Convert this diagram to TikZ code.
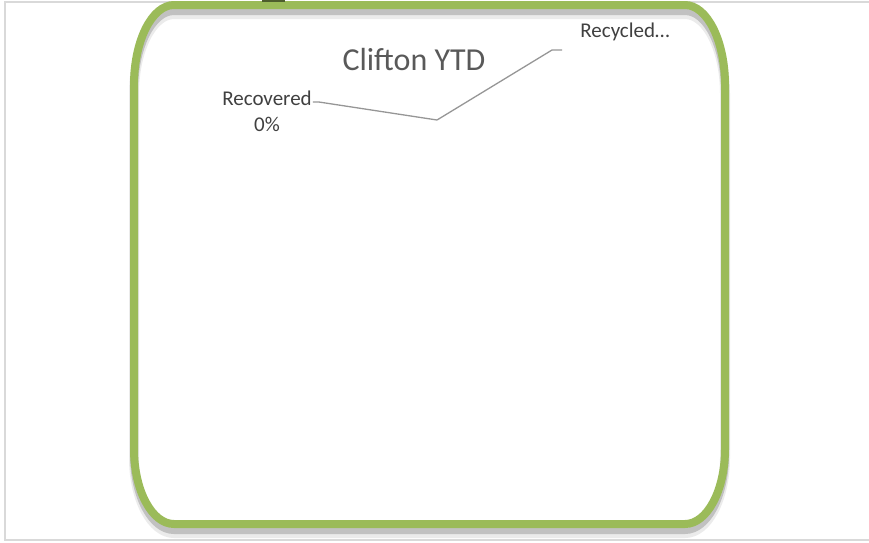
\documentclass[tikz,border=0pt]{standalone}
\usepackage{fontspec}
\setmainfont{Carlito}
\usepackage{xcolor}
\usetikzlibrary{positioning}

\definecolor{cardgreen}{RGB}{155,187,89}
\definecolor{framegray}{RGB}{217,217,217}
\definecolor{leadergray}{RGB}{150,150,150}
\definecolor{titlegray}{RGB}{89,89,89}
\definecolor{labelgray}{RGB}{64,64,64}

\tikzset{
  card outline/.style={insert path={
    (134,85) arc[start angle=180, end angle=270, x radius=40, y radius=80]
    -- (685,5) arc[start angle=270, end angle=360, x radius=40, y radius=80]
    -- (725,449) arc[start angle=0, end angle=90, x radius=40, y radius=75]
    -- (174,524) arc[start angle=90, end angle=180, x radius=40, y radius=75]
    -- cycle}},
  label text/.style={inner sep=1pt, text=labelgray, font=\fontsize{21}{25}\selectfont},
  leader/.style={draw=leadergray, line width=1.3pt}
}

\begin{document}
\begin{tikzpicture}[x=1pt,y=-1pt]
  \useasboundingbox (0,0) rectangle (869,542);

  % Frame
  \draw[framegray, line width=1.5pt] (880,2) -- (5,2) -- (5,540) -- (880,540);

  % Card
  \draw[black, opacity=0.08, line width=10pt, yshift=-9pt] [card outline];
  \draw[black, opacity=0.18, line width=8pt, yshift=-6pt] [card outline];
  \draw[cardgreen, line width=8pt] [card outline];
  \fill[cardgreen!50!black] (262,0) rectangle (285,2);

  % Nodes
  \node[text=titlegray, font=\fontsize{32}{38}\selectfont] (title) at (414,60) {Clifton YTD};
  \node[label text] (recovered) at (267,98) {Recovered};
  \node[label text, below=9pt of recovered] (recovered_pct) {0\%};
  \node[label text] (recycled) at (625,32) {Recycled…};
  \coordinate (pie) at (437,120);
  \coordinate (recycled_end) at (562,50);

  % Leaders
  \draw[leader] ([yshift=-4pt]recovered.east) -- ++(6,0) -- (pie);
  \draw[leader] (pie) -- ([xshift=-10pt]recycled_end) -- (recycled_end);
\end{tikzpicture}
\end{document}
